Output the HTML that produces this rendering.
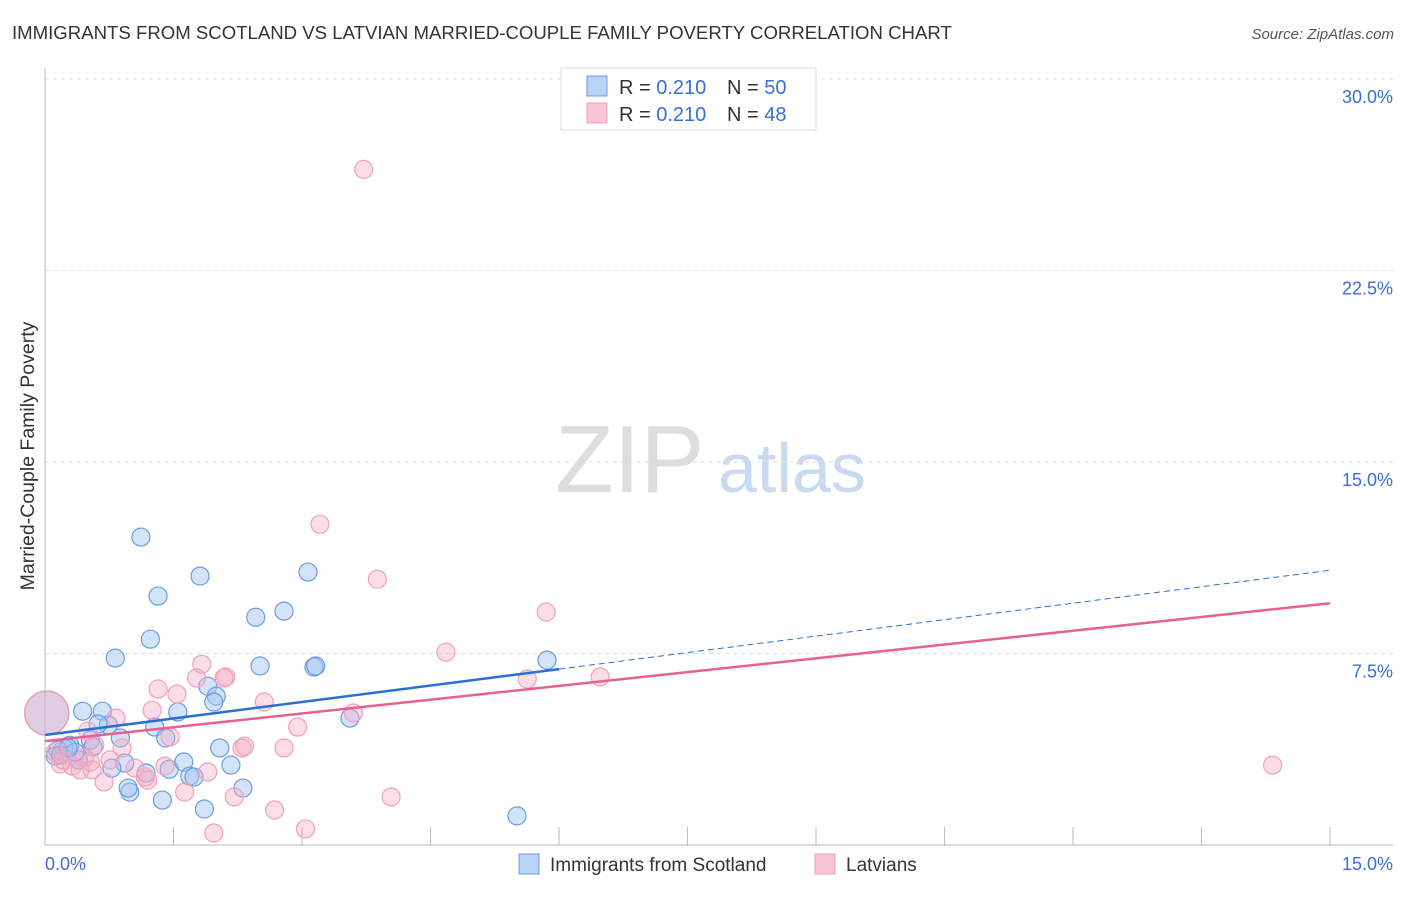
<!DOCTYPE html>
<html><head><meta charset="utf-8"><style>
body{margin:0;background:#fff;font-family:"Liberation Sans",sans-serif}
svg text{font-family:"Liberation Sans",sans-serif}
</style></head><body>
<svg id="c" width="1406" height="892">
<text x="12" y="39" font-size="18.6" fill="#333">IMMIGRANTS FROM SCOTLAND VS LATVIAN MARRIED-COUPLE FAMILY POVERTY CORRELATION CHART</text>
<text x="1394" y="39" font-size="15" fill="#555" font-style="italic" text-anchor="end">Source: ZipAtlas.com</text>
<text x="34" y="456" font-size="19.5" fill="#333" text-anchor="middle" transform="rotate(-90 34 456)">Married-Couple Family Poverty</text>
<text x="555" y="492" font-size="96" fill="#ddd" font-family="Liberation Serif">ZIP</text>
<text x="718" y="492" font-size="70" fill="#c9d9f0">atlas</text>
<g id="grid"></g><g id="pts"></g><g id="lines"></g>
<g>
<rect x="561" y="68" width="255" height="62" fill="#fff" stroke="#ddd"/>
<rect x="587" y="76" width="20" height="20" fill="#b8d3f5" stroke="#6a9be0"/>
<text x="619" y="94" font-size="20" fill="#333">R = <tspan fill="#3b6fd4">0.210</tspan></text>
<text x="727" y="94" font-size="20" fill="#333">N = <tspan fill="#3b6fd4">50</tspan></text>
<rect x="587" y="103" width="20" height="20" fill="#f8c5d6" stroke="#f0a0bc"/>
<text x="619" y="121" font-size="20" fill="#333">R = <tspan fill="#3b6fd4">0.210</tspan></text>
<text x="727" y="121" font-size="20" fill="#333">N = <tspan fill="#3b6fd4">48</tspan></text>
</g>
<g>
<rect x="519" y="854" width="20" height="20" fill="#b8d3f5" stroke="#6a9be0"/>
<text x="550" y="871" font-size="19" fill="#333">Immigrants from Scotland</text>
<rect x="815" y="854" width="20" height="20" fill="#f8c5d6" stroke="#f0a0bc"/>
<text x="846" y="871" font-size="19" fill="#333">Latvians</text>
</g>
</svg>
<script>
const blueX=[1.12,1.81,1.32,1.23,0.82,2.46,2.79,3.07,2.51,3.14,3.16,5.86,1.90,2.00,1.97,1.55,0.44,0.67,0.74,0.62,1.28,0.88,1.41,0.53,0.29,0.22,0.15,0.12,0.39,0.56,2.04,3.56,0.93,0.78,1.18,1.45,1.62,2.17,1.69,1.74,0.99,0.97,1.37,1.86,2.31,5.51,0.02,0.18,0.35,0.27];
const blueY=[12.06,10.53,9.75,8.06,7.32,8.92,9.16,10.69,7.01,6.97,7.01,7.24,6.22,5.83,5.60,5.21,5.24,5.24,4.70,4.74,4.62,4.19,4.19,4.11,3.91,3.80,3.72,3.48,3.33,3.84,3.80,4.97,3.21,3.01,2.82,2.97,3.25,3.13,2.70,2.66,2.07,2.23,1.76,1.41,2.23,1.14,5.17,3.52,3.64,3.80];
const pinkX=[3.72,3.21,3.88,5.85,4.68,1.83,2.11,2.09,1.77,1.32,1.54,2.56,5.63,6.48,3.60,2.95,1.25,0.83,0.50,1.46,0.58,2.30,2.33,2.79,0.90,0.76,1.40,0.18,0.32,0.53,0.46,0.12,0.55,0.69,1.17,1.90,1.20,1.63,2.21,2.68,4.04,1.97,3.04,14.33,1.05,0.21,0.02,0.41];
const pinkY=[26.46,12.56,10.41,9.12,7.55,7.08,6.58,6.54,6.54,6.11,5.91,5.60,6.50,6.58,5.17,4.62,5.28,4.97,4.46,4.23,3.91,3.80,3.87,3.80,3.80,3.33,3.09,3.17,3.09,3.25,3.41,3.64,2.94,2.47,2.66,2.86,2.54,2.07,1.88,1.37,1.88,0.47,0.63,3.13,3.01,3.33,5.17,2.94];
const yTicks=[7.5,15,22.5,30];
const xTicks=[0,1.5,3,4.5,6,7.5,9,10.5,12,13.5,15];
const blueTrend=[4.31,10.76], pinkTrend=[4.07,9.47], blueSolidEnd=6.0;
const NS='http://www.w3.org/2000/svg';
const X=v=>45+v/15*1285, Y=v=>845-v/30*766;
function mk(p,t,a){const e=document.createElementNS(NS,t);for(const k in a)e.setAttribute(k,a[k]);p.appendChild(e);return e;}
const g=document.getElementById('grid');
yTicks.forEach(t=>{
 const l=mk(g,'line',{x1:45,x2:1393,y1:Y(t),y2:Y(t),stroke:'#ddd','stroke-dasharray':'4 4'});
 
 
 const tx=mk(g,'text',{x:1393,y:Y(t)+24,'font-size':18,fill:'#3b6fd4','text-anchor':'end'});
 tx.textContent=t.toFixed(1)+'%';
 
 
});
mk(g,'line',{x1:45,x2:45,y1:68,y2:845,stroke:'#bbb'});
mk(g,'line',{x1:45,x2:1393,y1:845,y2:845,stroke:'#bbb'});
xTicks.forEach((t,i)=>{if(i>0){const l=mk(g,'line',{x1:X(t),x2:X(t),y1:827,y2:845,stroke:'#bbb'});
 
 }});
[[0,'start','0.0%'],[15,'end','15.0%']].forEach(a=>{const tx=mk(g,'text',{x:a[0]?1393:45,y:870,'font-size':18,fill:'#3b6fd4','text-anchor':a[1]});tx.textContent=a[2];
 
 });
const P=document.getElementById('pts');
function draw(xs,ys,fill,stroke,name){xs.forEach((x,i)=>{const big=x<0.05;
 const c=mk(P,'circle',{cx:X(x),cy:Y(ys[i]),r:big?22:9,fill:fill,stroke:stroke,'stroke-width':1.2});
 
 });}
draw(blueX,blueY,'rgba(160,196,240,0.45)','#6a9be0','scotland-point');
draw(pinkX,pinkY,'rgba(244,170,195,0.4)','#f0a0bc','latvian-point');
const L=document.getElementById('lines');
const bAt=x=>blueTrend[0]+(blueTrend[1]-blueTrend[0])*x/15;
const b1=mk(L,'line',{x1:X(0),y1:Y(bAt(0)),x2:X(blueSolidEnd),y2:Y(bAt(blueSolidEnd)),stroke:'#2a6fd6','stroke-width':2.5});


const b2=mk(L,'line',{x1:X(blueSolidEnd),y1:Y(bAt(blueSolidEnd)),x2:X(15),y2:Y(bAt(15)),stroke:'#2a6fd6','stroke-width':1,'stroke-dasharray':'6 4'});


const p1=mk(L,'line',{x1:X(0),y1:Y(pinkTrend[0]),x2:X(15),y2:Y(pinkTrend[1]),stroke:'#e8608f','stroke-width':2.5});


</script>
</body></html>
